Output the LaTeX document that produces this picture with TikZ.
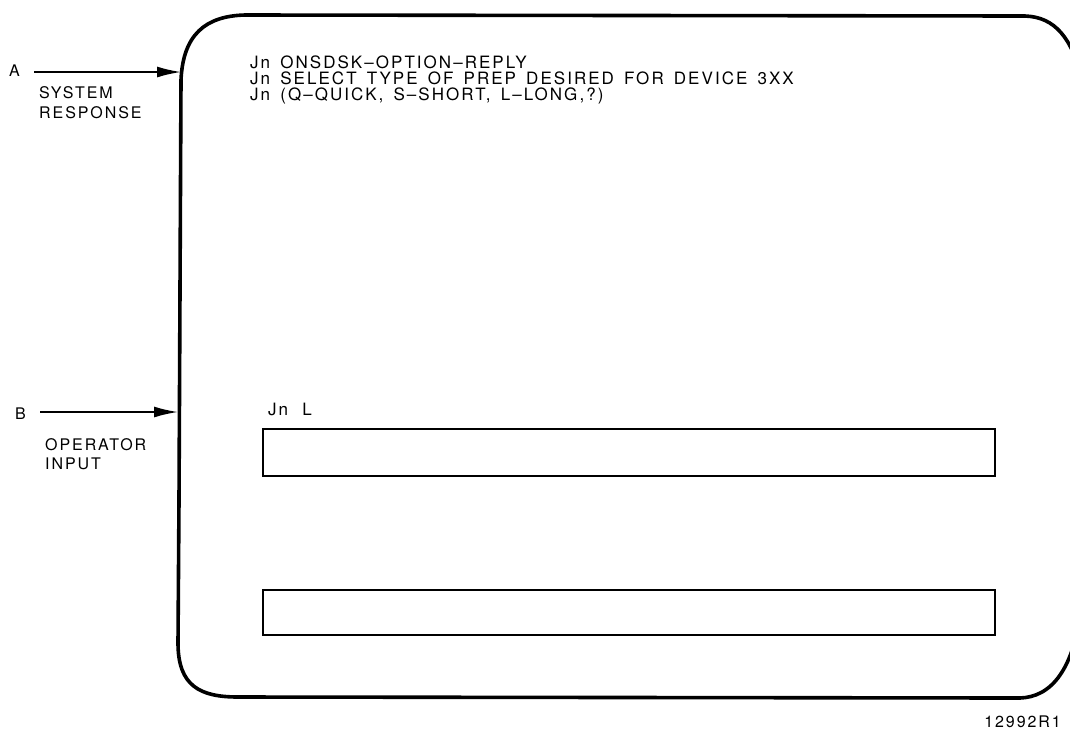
\documentclass[tikz,border=0pt]{standalone}
\usepackage{fontspec}
\setmainfont{TeX Gyre Heros}
\newfontfamily\crtfont[LetterSpace=12, WordSpace=1.5]{TeX Gyre Heros}
\usetikzlibrary{arrows.meta}

\tikzset{
  screen/.style={line width=3.6pt, line join=round},
  inbox/.style={line width=1.6pt},
  pointer/.style={line width=1.8pt, -{Latex[length=24pt,width=11pt]}},
  msg/.style={font=\crtfont\fontsize{17}{17}\selectfont, anchor=base west, inner sep=0pt},
  side/.style={font=\crtfont\fontsize{16}{16}\selectfont, anchor=base west, inner sep=0pt},
}

\begin{document}
\begin{tikzpicture}[x=1pt, y=-1pt]
    \useasboundingbox (0,0) rectangle (1070,729);
    \clip (0,0) rectangle (1070,729);
    % Screen outline
    \draw[screen] (179,500) -- (178,643) .. controls (178,686) and (200,697) .. (238,697)
        -- (1020,698) .. controls (1050,697) and (1075,672) .. (1082,600)
        -- (1082,80) .. controls (1072,38) and (1055,17) .. (1025,16)
        -- (245,15) .. controls (205,16) and (183,35) .. (181,80) -- cycle;
    % System response (A)
    \node[side] (labA) at (9,76) {A};
    \coordinate (tailA) at (34,72);
    \coordinate (edgeA) at (181,72);
    \draw[pointer] (tailA) -- (edgeA);
    \node[side] (sysA) at (39,98) {SYSTEM};
    \node[side] (respA) at (39,118) {RESPONSE};
    \node[msg] (line1) at (250,68.5) {Jn ONSDSK–OPTION–REPLY};
    \node[msg] (line2) at (250,84.5) {Jn SELECT TYPE OF PREP DESIRED FOR DEVICE 3XX};
    \node[msg] (line3) at (250,100.5) {Jn (Q–QUICK, S–SHORT, L–LONG,?)};
    % Operator input (B)
    \node[side] (labB) at (15,419) {B};
    \coordinate (tailB) at (40,412);
    \coordinate (edgeB) at (178,412);
    \draw[pointer] (tailB) -- (edgeB);
    \node[side] (opB) at (45,450) {OPERATOR};
    \node[side] (inB) at (45,469) {INPUT};
    \node[msg] (reply) at (268,415) {Jn\hspace{4pt} L};
    % Input fields
    \draw[inbox] (263,429) rectangle (995,476);
    \draw[inbox] (263,590) rectangle (995,635);
    % Figure number
    \node[side, anchor=base east] (fignum) at (1061,727) {12992R1};
\end{tikzpicture}
\end{document}
